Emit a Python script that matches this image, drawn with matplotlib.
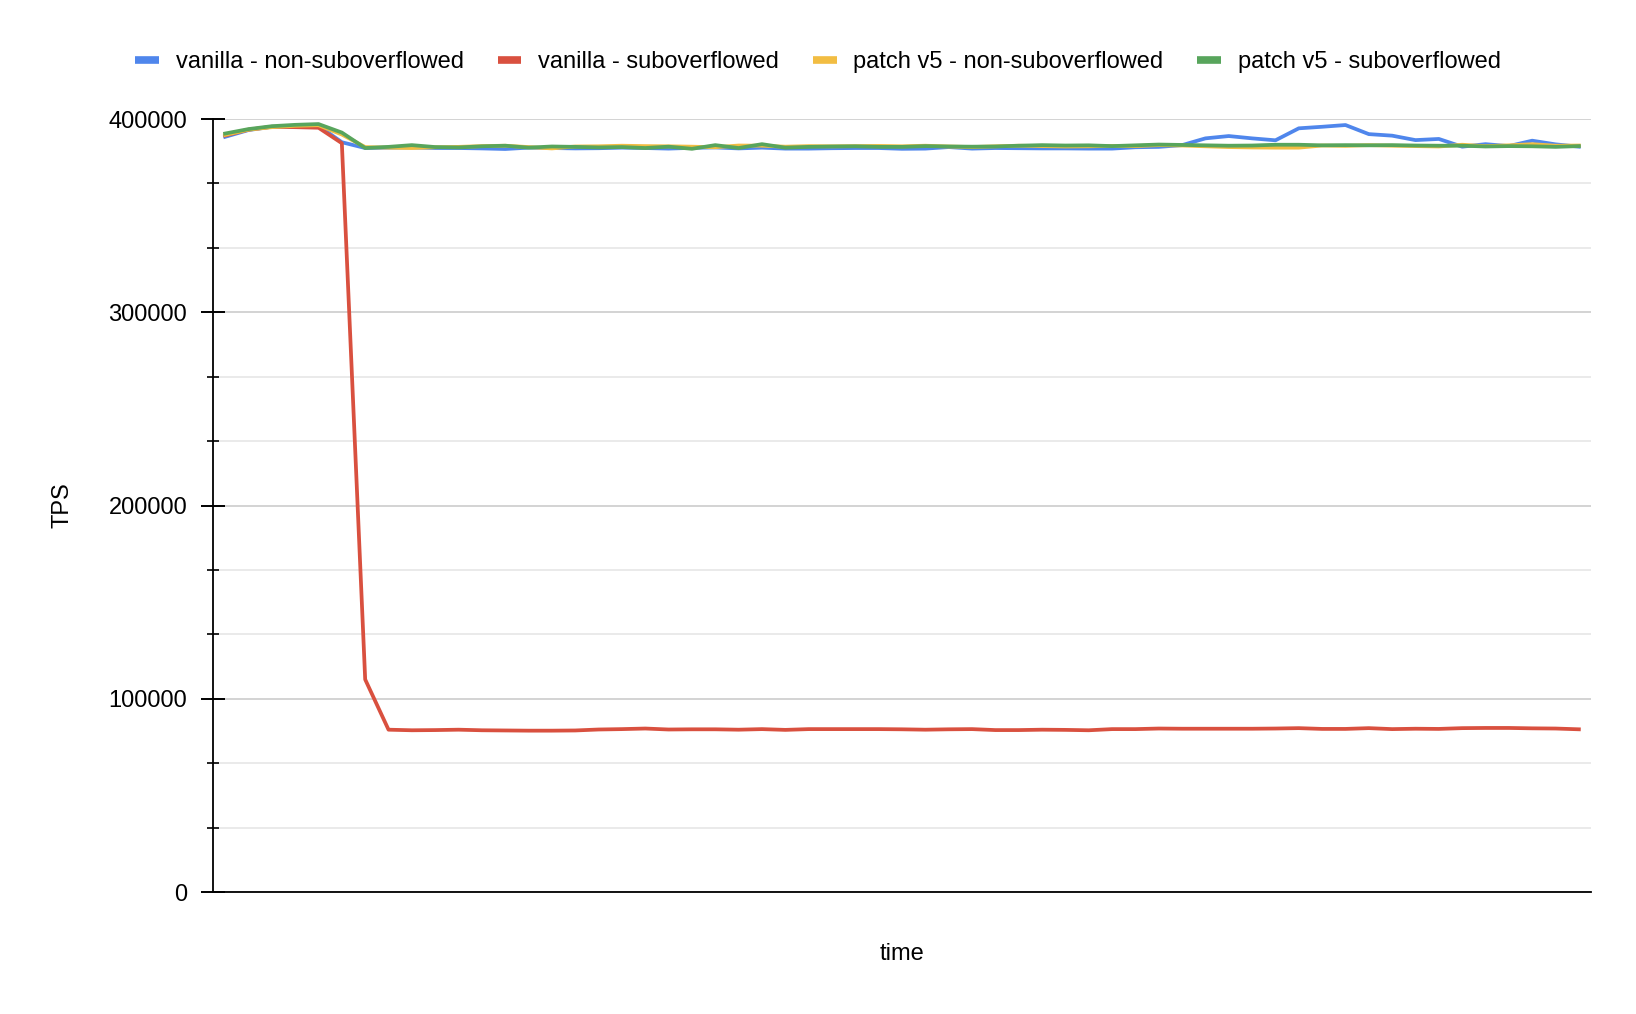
import numpy as np
import matplotlib.pyplot as plt
from matplotlib.lines import Line2D
from matplotlib.ticker import MultipleLocator

plt.rcParams['font.family'] = ['Liberation Sans', 'DejaVu Sans']

# TPS samples, one per time step
vanilla_non = [390800, 394300, 396000, 396200, 396500, 388000, 385000, 385200, 385300, 385000,
               385000, 384800, 384500, 385200, 385000, 384800, 384900, 385200, 385000, 384700,
               385100, 385300, 384800, 385200, 384700, 384700, 384900, 385000, 385000, 384600,
               384700, 385500, 384700, 385000, 384900, 384800, 384800, 384700, 384700, 385400,
               385600, 386500, 390000, 391200, 390000, 389000, 395200, 396000, 396900, 392200,
               391400, 389100, 389700, 385700, 387000, 386000, 388800, 386900, 385700]
vanilla_sub = [391500, 394500, 396000, 395800, 395500, 387500, 110000, 84000, 83700, 83800,
               84000, 83700, 83600, 83500, 83500, 83600, 84100, 84300, 84600, 84100,
               84200, 84200, 84000, 84300, 83900, 84300, 84300, 84300, 84300, 84200,
               84000, 84200, 84300, 83800, 83800, 84000, 83900, 83700, 84300, 84300,
               84600, 84500, 84500, 84500, 84500, 84600, 84800, 84400, 84400, 84800,
               84300, 84500, 84400, 84800, 84900, 84900, 84700, 84600, 84200]
patch_non = [391800, 394500, 395800, 396500, 396800, 392000, 385500, 385200, 385000, 385400,
             385600, 386000, 386200, 385500, 384800, 385800, 385900, 386200, 386000, 385900,
             385700, 385400, 386300, 386200, 385700, 386000, 385900, 386000, 386100, 385900,
             386200, 385800, 385500, 385900, 386200, 386000, 385800, 385900, 386100, 386000,
             386500, 386300, 385900, 385500, 385300, 385200, 385200, 386300, 386100, 386500,
             386200, 386000, 385800, 386700, 386000, 386400, 387000, 386200, 386300]
patch_sub = [392500, 394800, 396300, 397000, 397400, 393000, 385000, 385600, 386500, 385500,
             385300, 385900, 386200, 385200, 385800, 385600, 385300, 385500, 385000, 385700,
             384600, 386500, 385000, 387000, 385200, 385600, 385800, 385900, 385600, 385600,
             386000, 385800, 385700, 385800, 386200, 386500, 386300, 386400, 386000, 386400,
             386800, 386600, 386400, 386200, 386300, 386700, 386700, 386400, 386500, 386400,
             386500, 386300, 386200, 386200, 385800, 386000, 385900, 385600, 386000]

names = ['vanilla - non-suboverflowed', 'vanilla - suboverflowed',
         'patch v5 - non-suboverflowed', 'patch v5 - suboverflowed']
colors = ['#4f86ec', '#d9503f', '#f2bd42', '#58a55c']
series = [vanilla_non, vanilla_sub, patch_non, patch_sub]

fig = plt.figure(figsize=(16.36, 10.14), dpi=100)
ax = fig.add_axes([0.1302, 0.1203, 0.8423, 0.7623])

x = np.arange(len(vanilla_non))
for s, c in zip(series, colors):
    ax.plot(x, s, color=c, lw=2.7, solid_joinstyle='round', zorder=3)

ax.set_xlim(-0.52, len(x) - 1 + 0.52)
ax.set_ylim(0, 400000)
ax.yaxis.set_major_locator(MultipleLocator(100000))
ax.yaxis.set_minor_locator(MultipleLocator(100000 / 3))
ax.grid(which='major', axis='y', color='#cccccc', lw=1.2, zorder=1)
ax.grid(which='minor', axis='y', color='#e6e6e6', lw=1.2, zorder=1)
ax.set_xticks([])
ax.tick_params(axis='y', which='major', direction='inout', length=17, width=1.4,
               pad=10, labelsize=17, colors='black')
ax.tick_params(axis='y', which='minor', direction='inout', length=8.5, width=1.2)

for side in ['top', 'right']:
    ax.spines[side].set_visible(False)
for side in ['left', 'bottom']:
    ax.spines[side].set_linewidth(1.3)
    ax.spines[side].set_color('black')
    ax.spines[side].set_zorder(4)

ax.set_ylabel('TPS', fontsize=17, labelpad=25)
ax.set_xlabel('time', fontsize=17, labelpad=37)

handles = [Line2D([], [], color=c, lw=5.5, solid_capstyle='butt') for c in colors]
fig.legend(handles, names, loc='center', bbox_to_anchor=(0.5, 0.939), ncol=4,
           frameon=False, fontsize=17, handlelength=1.0, handletextpad=0.7,
           columnspacing=1.45)

fig.savefig('out.png', dpi=100)
